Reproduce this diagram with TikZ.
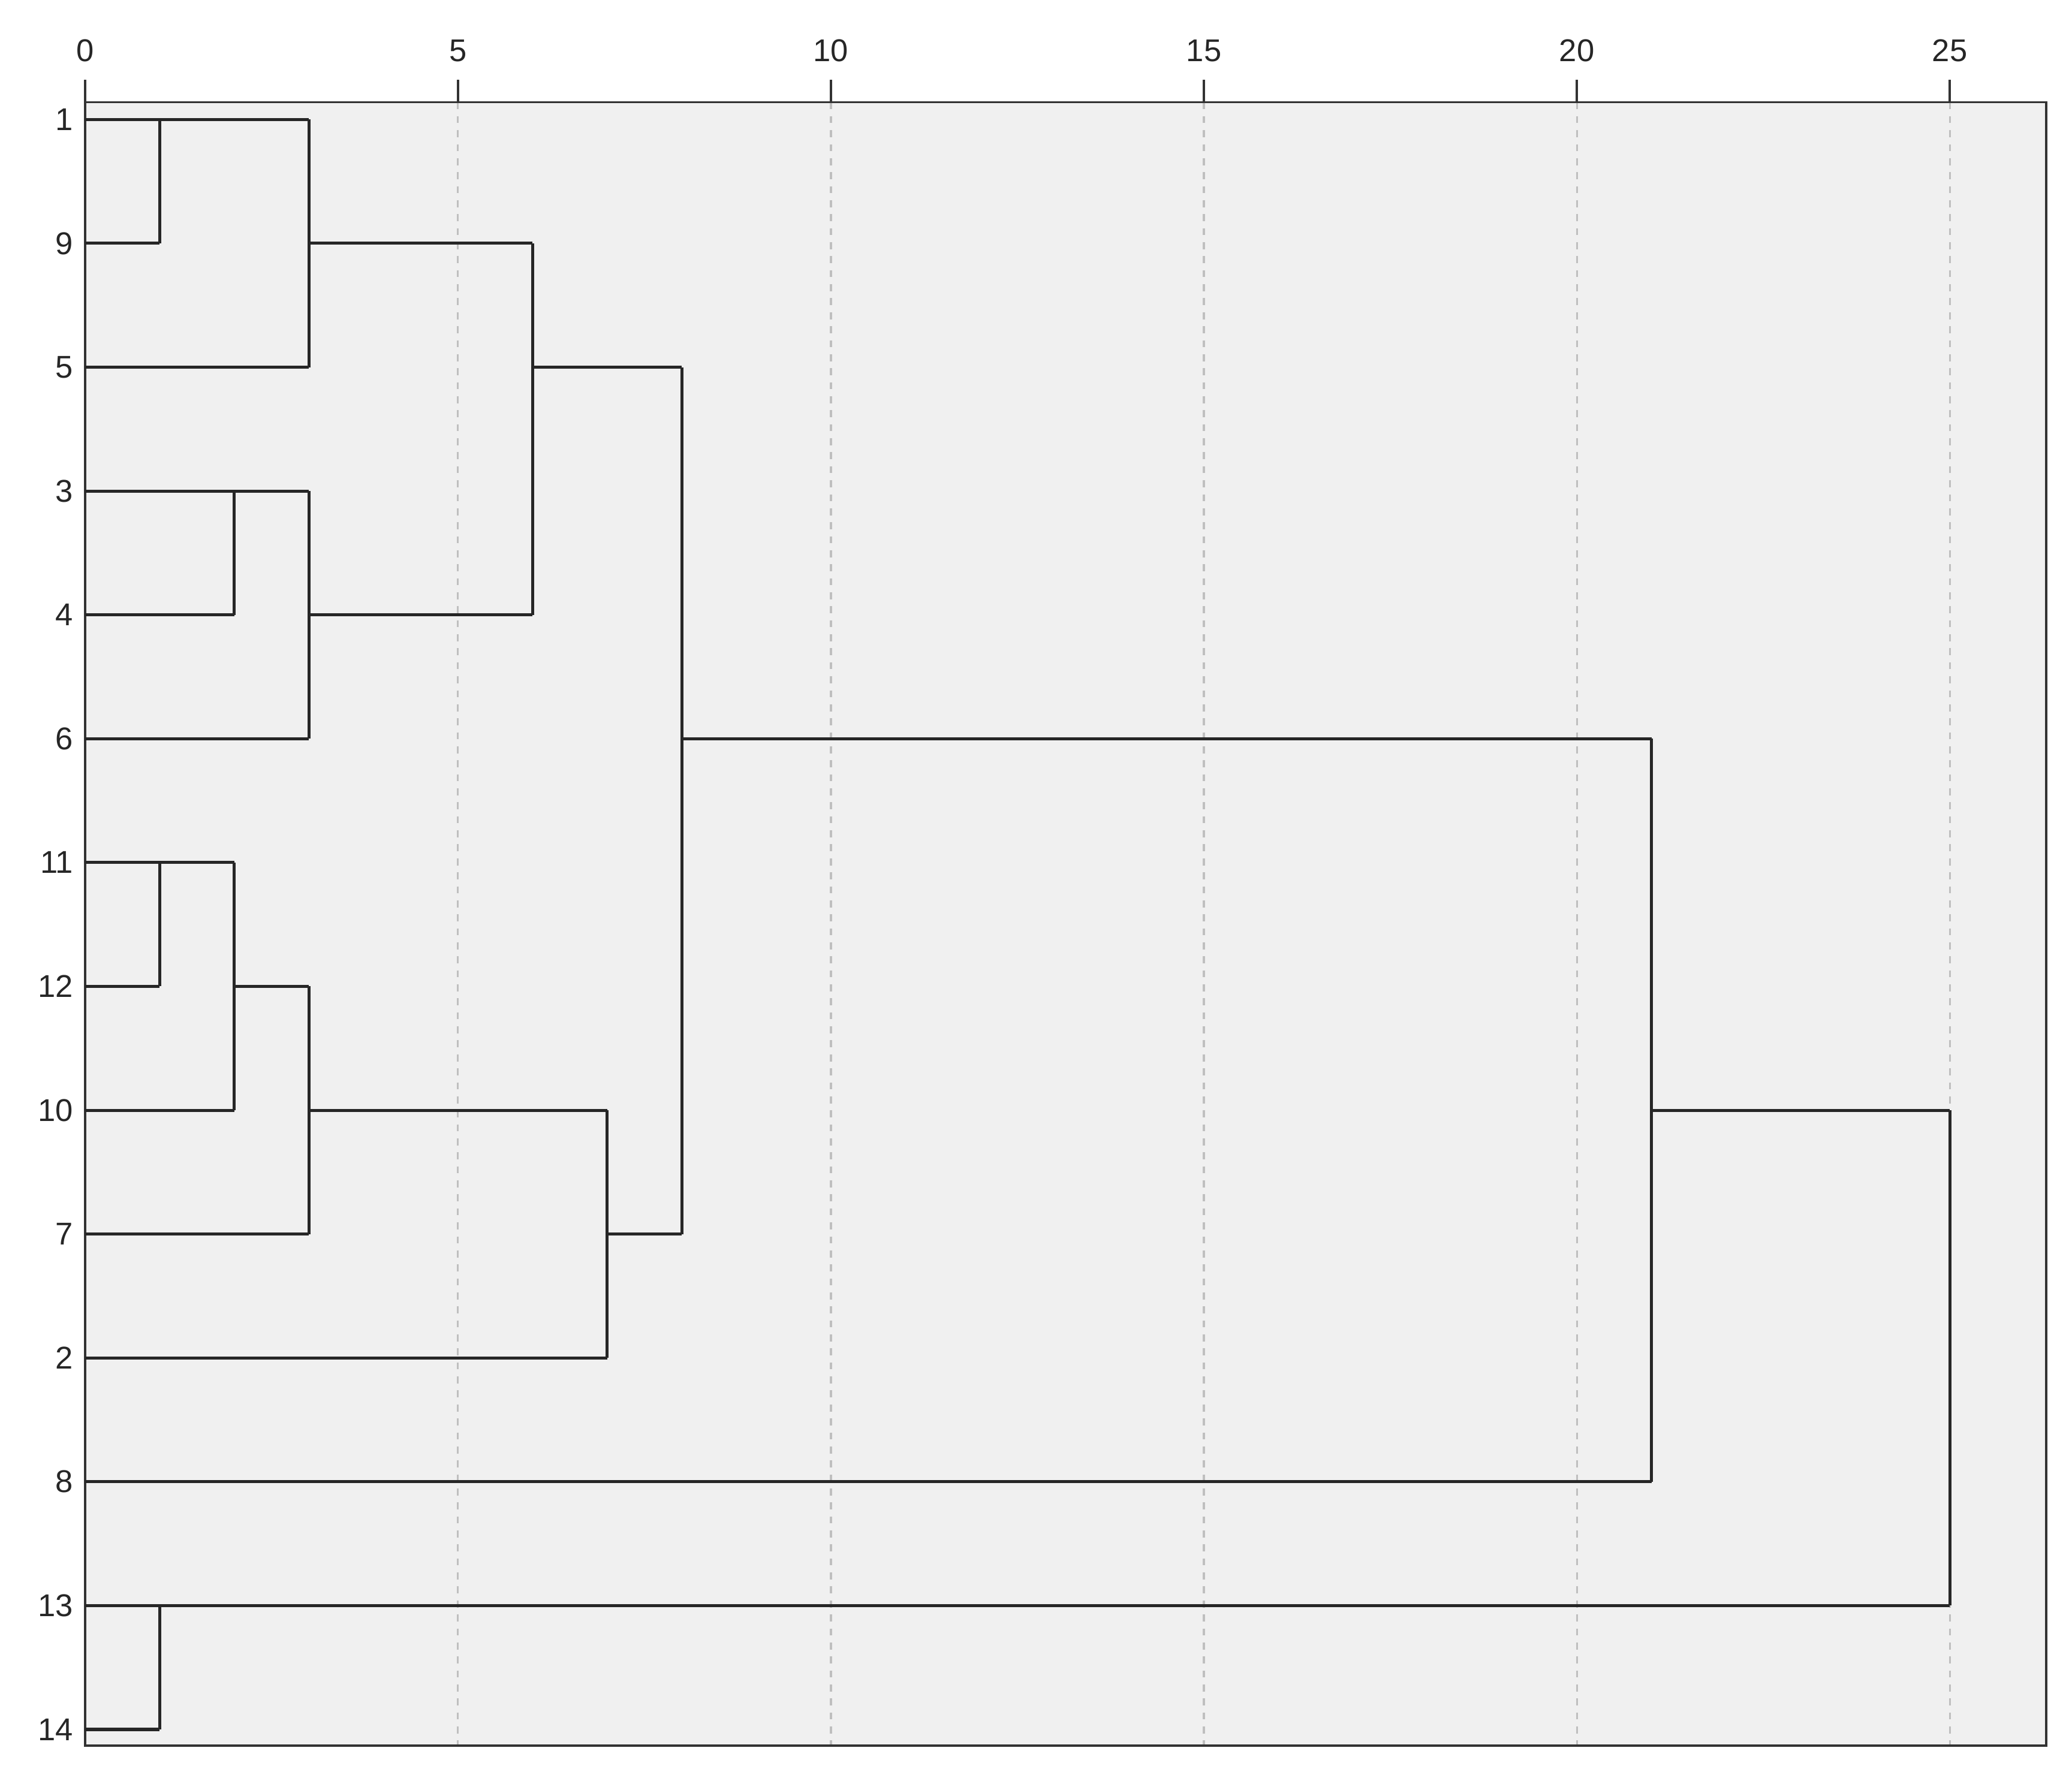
\documentclass[tikz,border=0pt]{standalone}
\usepackage{fontspec}
\setmainfont{Liberation Sans}
\begin{document}
\begin{tikzpicture}
\useasboundingbox (0,0) rectangle (31.2,-26.68);
\tikzset{lab/.style={font=\fontsize{13.5}{16}\selectfont, text=black!85},
  br/.style={line width=1.3pt, draw=black!85},
  grid/.style={dashed, draw=black!25, line width=0.8pt}}
\begin{scope}[shift={(1.28,-1.8)}, x=1.1232cm, y=-1.865cm]
\fill[black!6] (0,-0.14) rectangle (26.29,13.13);
\foreach \v in {5,10,15,20,25} \draw[grid] (\v,-0.14) -- (\v,13.13);
\draw[black!80, line width=1pt] (0,-0.14) rectangle (26.29,13.13);
\foreach \v in {0,5,10,15,20,25} {
  \draw[black!80, line width=1pt] (\v,-0.14) -- (\v,-0.32);
  \node[lab, anchor=south] (t\v) at (\v,-0.40) {\v};
}
\foreach \n/\r in {1/0,9/1,5/2,3/3,4/4,6/5,11/6,12/7,10/8,7/9,2/10,8/11,13/12,14/13} {
  \node[lab, anchor=east] (l\n) at (-0.05,\r) {\n};
  \coordinate (c\n) at (0,\r);
}
% leaves
\draw[br] (c1) -- (1,0) (c9) -- (1,1);
\draw[br] (c5) -- (3,2);
\draw[br] (c3) -- (2,3) (c4) -- (2,4);
\draw[br] (c6) -- (3,5);
\draw[br] (c11) -- (1,6) (c12) -- (1,7);
\draw[br] (c10) -- (2,8) (c7) -- (3,9) (c2) -- (7,10);
\draw[br] (c8) -- (21,11);
\draw[br] (c13) -- (1,12) (c14) -- (1,13);
% merges
\draw[br] (1,1) -- (1,0) -- (3,0);
\draw[br] (3,0) -- (3,2) (3,1) -- (6,1);
\draw[br] (2,4) -- (2,3) -- (3,3);
\draw[br] (3,3) -- (3,5) (3,4) -- (6,4);
\draw[br] (6,1) -- (6,4) (6,2) -- (8,2);
\draw[br] (1,7) -- (1,6) -- (2,6);
\draw[br] (2,6) -- (2,8) (2,7) -- (3,7);
\draw[br] (3,7) -- (3,9) (3,8) -- (7,8);
\draw[br] (7,8) -- (7,10) (7,9) -- (8,9);
\draw[br] (8,2) -- (8,9) (8,5) -- (21,5);
\draw[br] (21,5) -- (21,11) (21,8) -- (25,8);
\draw[br] (1,13) -- (1,12) -- (25,12);
\draw[br] (25,8) -- (25,12);
\end{scope}
\end{tikzpicture}
\end{document}
